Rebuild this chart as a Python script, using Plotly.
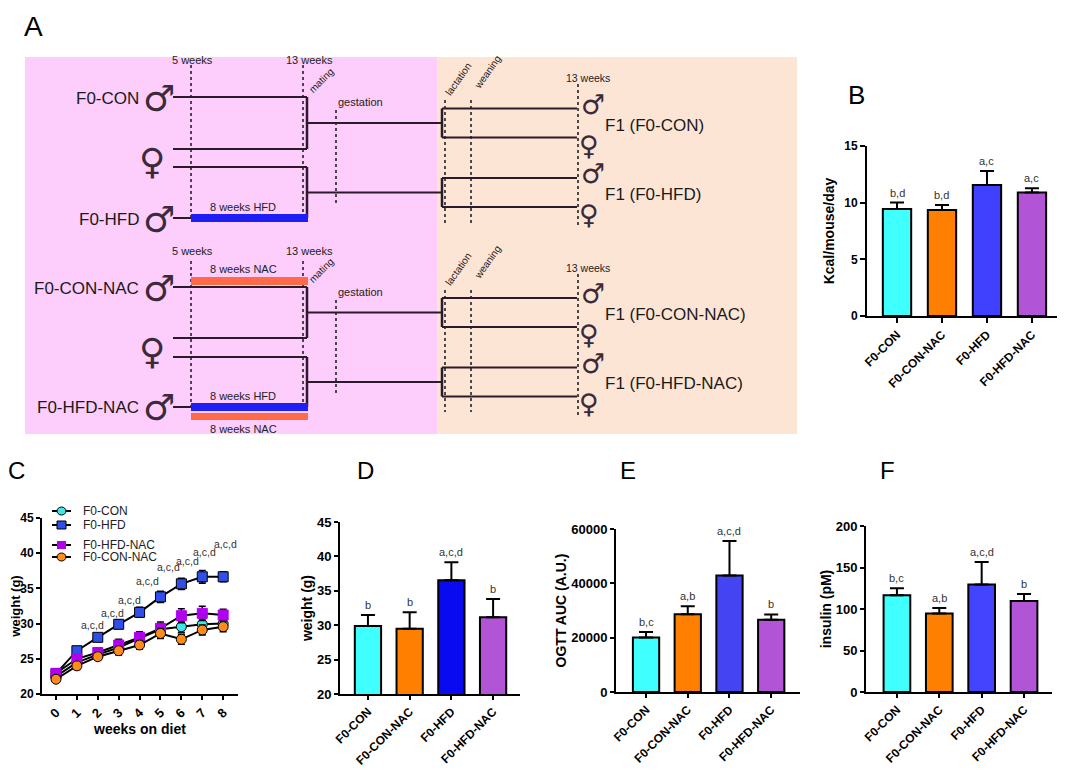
import plotly.graph_objects as go

W, H = 1065, 770
OFF = 8  # the page body margin of the browser page
FONT = "Liberation Sans, Arial, sans-serif"
SYMF = "DejaVu Sans, sans-serif"

# ---------------- data ----------------
groups = ["F0-CON", "F0-CON-NAC", "F0-HFD", "F0-HFD-NAC"]

kcal_mean = [9.45, 9.35, 11.55, 10.9]
kcal_sem = [0.56, 0.45, 1.25, 0.37]
kcal_sig = ["b,d", "b,d", "a,c", "a,c"]

weight_mean = [29.9, 29.5, 36.55, 31.15]
weight_sem = [1.6, 2.4, 2.6, 2.65]
weight_sig = ["b", "b", "a,c,d", "b"]

ogtt_mean = [20100, 28650, 42900, 26600]
ogtt_sem = [1950, 2950, 12700, 1950]
ogtt_sig = ["b,c", "a,b", "a,c,d", "b"]

ins_mean = [116.5, 94.5, 129.5, 109.5]
ins_sem = [8.5, 6.8, 27.0, 8.7]
ins_sig = ["b,c", "a,b", "a,c,d", "b"]

weeks = [0, 1, 2, 3, 4, 5, 6, 7, 8]
con_w = [22.5, 24.5, 25.6, 26.6, 27.9, 29.2, 29.56, 29.9, 30.0]
con_e = [0.4, 0.5, 0.5, 0.6, 0.7, 0.8, 0.8, 0.8, 0.7]
hfd_w = [22.9, 26.15, 28.05, 29.9, 31.6, 33.8, 35.65, 36.65, 36.65]
hfd_e = [0.5, 0.5, 0.5, 0.6, 0.7, 0.8, 0.8, 0.9, 0.7]
hfdnac_w = [22.94, 25.0, 25.9, 26.96, 28.05, 29.33, 31.12, 31.46, 31.22]
hfdnac_e = [0.4, 0.5, 0.6, 0.8, 0.8, 0.9, 1.0, 1.0, 0.8]
connac_w = [22.1, 24.0, 25.3, 26.15, 26.96, 28.6, 27.77, 29.1, 29.56]
connac_e = [0.4, 0.5, 0.5, 0.6, 0.6, 0.7, 0.7, 0.7, 0.7]
c_sig_text = ["a,c,d"] * 8
c_sig_weeks = [1.77, 2.68, 3.54, 4.40, 5.36, 6.27, 7.13, 8.13]
c_sig_y = [29.8, 31.5, 33.35, 36.05, 38.0, 38.9, 40.2, 41.3]

# ---------------- helpers ----------------
def X(p):
    return (p - OFF) / W

def Y(p):
    return 1 - (p - OFF) / H

shapes = []
annots = []
LC = "#2b1a2b"

def seg(x0, y0, x1, y1, w=2, dash=None, color=LC):
    ln = dict(color=color, width=w)
    if dash:
        ln["dash"] = dash
    shapes.append(dict(type="line", xref="paper", yref="paper",
                       x0=X(x0), y0=Y(y0), x1=X(x1), y1=Y(y1), line=ln))

def box(x0, y0, x1, y1, color, kind="rect", edge=None):
    shapes.append(dict(type=kind, xref="paper", yref="paper",
                       x0=X(x0), y0=Y(y0), x1=X(x1), y1=Y(y1),
                       fillcolor=color,
                       line=dict(width=1 if edge else 0, color=edge or color)))

def txt(x, y, s, size, xanchor="center", angle=0, family=FONT, color="#222222", yanchor="middle"):
    annots.append(dict(xref="paper", yref="paper", x=X(x), y=Y(y), text=s,
                       showarrow=False, xanchor=xanchor, yanchor=yanchor,
                       textangle=angle, font=dict(family=family, size=size, color=color)))

def dot(x, y0, y1):
    seg(x, y0, x, y1, w=1.6, dash="dot", color="#222222")

# ---------------- panel A ----------------
PINK = "#FDCDFC"
PEACH = "#FDE5D6"
BLUE = "#1F1FF5"
TOMATO = "#FF6A4A"
SYMC = "#3a2a3a"
box(25, 57, 437, 434, PINK)
box(437, 57, 797, 434, PEACH)

def section(dy, male_top, male_bot, fem1, fem2, top_label, bot_label, f1a, f1b, nac_top, nac_bot):
    txt(192, 60.5 + dy, "5 weeks", 11)
    txt(309, 60.5 + dy, "13 weeks", 11)
    dot(191, 65 + dy + (6 if nac_top else 0), male_bot)
    dot(303, 65 + dy + (6 if nac_top else 0), male_bot)
    for yy in (male_top, fem1, fem2, male_bot):
        seg(173, yy, 307, yy)
    seg(307, male_top, 307, fem1, w=2.5)
    seg(307, fem2, 307, male_bot, w=2.5)
    m1 = (male_top + fem1) / 2
    m2 = (fem2 + male_bot) / 2
    seg(307, m1, 442, m1)
    seg(307, m2, 442, m2)
    txt(141, male_top + 2, top_label, 17, xanchor="right", color="#1a1a1a")
    txt(141, male_bot + 1, bot_label, 17, xanchor="right", color="#1a1a1a")
    txt(159, male_top + 1, "♂", 36, family=SYMF, color=SYMC)
    txt(159, male_bot + 1, "♂", 36, family=SYMF, color=SYMC)
    txt(152, (fem1 + fem2) / 2 + 4, "♀", 36, family=SYMF, color=SYMC)
    txt(321, 80 + dy, "mating", 10, angle=-45)
    txt(360, 102 + dy, "gestation", 11)
    dot(336, 110 + dy, m2 + 11)
    if nac_top:
        txt(243, 269, "8 weeks NAC", 11)
        box(191, male_top - 10, 308, male_top - 2, TOMATO)
    box(191, male_bot - 4, 308, male_bot + 4, BLUE)
    txt(243, male_bot - 11, "8 weeks HFD", 11)
    if nac_bot:
        box(191, male_bot + 6, 308, male_bot + 13, TOMATO)
        txt(243, male_bot + 22, "8 weeks NAC", 11)
    txt(459, 79 + dy, "lactation", 10, angle=-55)
    txt(487, 72 + dy, "weaning", 10, angle=-55)
    txt(588, 78 + dy, "13 weeks", 10.5)
    dot(445, 100 + dy, male_bot + 5)
    dot(471, 100 + dy, male_bot + 5)
    dot(578, 84 + dy, male_bot + 10)
    for m, lab in ((m1, f1a), (m2, f1b)):
        seg(442, m - 14.5, 442, m + 14.5, w=2.5)
        seg(442, m - 14.5, 577, m - 14.5)
        seg(442, m + 14.5, 577, m + 14.5)
        txt(593, m - 19, "♂", 27, family=SYMF, color=SYMC)
        txt(589, m + 22, "♀", 27, family=SYMF, color=SYMC)
        txt(603, m + 2, lab, 17, xanchor="left", color="#1a1a1a")

section(0, 97, 218, 149, 167, "F0-CON", "F0-HFD", "F1 (F0-CON)", "F1 (F0-HFD)", False, False)
section(190, 287, 407, 338, 357, "F0-CON-NAC", "F0-HFD-NAC", "F1 (F0-CON-NAC)", "F1 (F0-HFD-NAC)", True, True)

txt(33, 9, "A", 28, color="black", yanchor="top")
for s, x, y, sz in (("B", 856, 95, 26), ("C", 16, 470, 24),
                    ("D", 365, 470, 24), ("E", 628, 470, 24), ("F", 887, 470, 24)):
    txt(x, y, s, sz, color="black")

# ---------------- charts ----------------
fig = go.Figure()

CYAN = "#40FFFF"
ORANGE = "#FF8000"
PURPLE = "#B155D6"

def axis_style(**kw):
    d = dict(showline=True, linecolor="black", linewidth=2, ticks="outside", ticklen=4,
             tickwidth=2, tickcolor="black", showgrid=False, zeroline=False, automargin=False,
             tickfont=dict(family=FONT, size=13, color="black", weight="bold"))
    d.update(kw)
    return d

def bar_panel(n, means, sems, sigs, colors):
    xa = "x" if n == 1 else f"x{n}"
    ya = "y" if n == 1 else f"y{n}"
    fig.add_trace(go.Bar(
        x=list(range(len(groups))), y=means, width=0.63,
        marker=dict(color=colors, line=dict(color="black", width=2)),
        error_y=dict(type="data", symmetric=False, array=sems, arrayminus=[0] * len(sems),
                     color="black", thickness=2, width=7),
        xaxis=xa, yaxis=ya, showlegend=False, hoverinfo="skip"))
    for i, (m, e, s) in enumerate(zip(means, sems, sigs)):
        annots.append(dict(xref=xa, yref=ya, x=i, y=m + e, text=s, showarrow=False,
                           yanchor="bottom", yshift=2,
                           font=dict(family=FONT, size=11, color="#333333")))

bar_panel(1, kcal_mean, kcal_sem, kcal_sig, [CYAN, ORANGE, "#4040FF", PURPLE])
bar_panel(3, weight_mean, weight_sem, weight_sig, [CYAN, ORANGE, "#0A0AF0", PURPLE])
bar_panel(4, ogtt_mean, ogtt_sem, ogtt_sig, [CYAN, ORANGE, "#4444F2", PURPLE])
bar_panel(5, ins_mean, ins_sem, ins_sig, [CYAN, ORANGE, "#4444FF", PURPLE])

# panel C lines
series = [
    ("F0-CON", con_w, con_e, "circle", "#3FE6E6"),
    ("F0-HFD", hfd_w, hfd_e, "square", "#2F4FE8"),
    ("F0-HFD-NAC", hfdnac_w, hfdnac_e, "square", "#B000F0"),
    ("F0-CON-NAC", connac_w, connac_e, "circle", "#FF8C1A"),
]
for name, yv, ev, sym, col in series:
    fig.add_trace(go.Scatter(
        x=weeks, y=yv, name=name, mode="lines+markers", showlegend=False,
        line=dict(color="black", width=2),
        marker=dict(symbol=sym, size=10, color=col,
                    line=dict(color="black" if name != "F0-HFD-NAC" else col, width=1)),
        error_y=dict(type="data", array=ev, color="black", thickness=1.6, width=3.5),
        xaxis="x2", yaxis="y2", hoverinfo="skip"))
for t, wx, wy in zip(c_sig_text, c_sig_weeks, c_sig_y):
    annots.append(dict(xref="x2", yref="y2", x=wx, y=wy, text=t, showarrow=False,
                       font=dict(family=FONT, size=10.5, color="#333333")))

# compact legend for panel C (key swatches built from the series list)
leg_rows = [511, 525, 545, 557]
for (name, _, _, sym, col), ly in zip(series, leg_rows):
    seg(52, ly, 71, ly, w=2, color="black")
    kind = "circle" if sym == "circle" else "rect"
    edge = "black" if name != "F0-HFD-NAC" else None
    box(57, ly - 4, 66, ly + 4, col, kind=kind, edge=edge)
    txt(81, ly, name, 12, xanchor="left", color="#222222")

xt = dict(tickvals=[0, 1, 2, 3], ticktext=groups, tickangle=-45,
          tickfont=dict(family=FONT, size=12, color="black", weight="bold"))

def ytitle(s, so=1, size=14):
    return dict(text=s, font=dict(family=FONT, size=size, color="black", weight="bold"), standoff=so)

fig.update_layout(
    width=W, height=H, margin=dict(l=0, r=0, t=0, b=0, autoexpand=False),
    paper_bgcolor="white", plot_bgcolor="white",
    font=dict(family=FONT, color="black"),
    showlegend=False,
    xaxis=axis_style(domain=[X(867), X(1063)], range=[-0.667, 3.69], anchor="y", ticklen=5, **xt),
    yaxis=axis_style(domain=[Y(316), Y(146)], range=[0, 15], tickvals=[0, 5, 10, 15], ticklen=5,
                     anchor="x", title=ytitle("Kcal/mouse/day", 6),
                     tickfont=dict(family=FONT, size=12, color="black", weight="bold")),
    xaxis2=axis_style(domain=[X(42), X(238)], range=[-0.67, 8.71], anchor="y2",
                      tickvals=weeks, tickangle=-45,
                      title=dict(text="weeks on diet", standoff=2,
                                 font=dict(family=FONT, size=14, color="black", weight="bold"))),
    yaxis2=axis_style(domain=[Y(694), Y(518)], range=[20, 45], tickvals=[20, 25, 30, 35, 40, 45],
                      anchor="x2", title=ytitle("weight (g)", 1, 13),
                      tickfont=dict(family=FONT, size=12, color="black", weight="bold")),
    xaxis3=axis_style(domain=[X(340), X(520)], range=[-0.67, 3.645], anchor="y3", **xt),
    yaxis3=axis_style(domain=[Y(694), Y(522)], range=[20, 45], tickvals=[20, 25, 30, 35, 40, 45],
                      anchor="x3", title=ytitle("weight (g)")),
    xaxis4=axis_style(domain=[X(616), X(800)], range=[-0.72, 3.69], anchor="y4", **xt),
    yaxis4=axis_style(domain=[Y(692), Y(529)], range=[0, 60000], tickvals=[0, 20000, 40000, 60000],
                      tickformat="d", anchor="x4", title=ytitle("OGTT AUC (A.U.)")),
    xaxis5=axis_style(domain=[X(866), X(1052)], range=[-0.73, 3.66], anchor="y5", **xt),
    yaxis5=axis_style(domain=[Y(692), Y(526)], range=[0, 200], tickvals=[0, 50, 100, 150, 200],
                      anchor="x5", title=ytitle("insulin (pM)")),
    shapes=shapes,
    annotations=annots,
)

fig.write_html("out.html")
